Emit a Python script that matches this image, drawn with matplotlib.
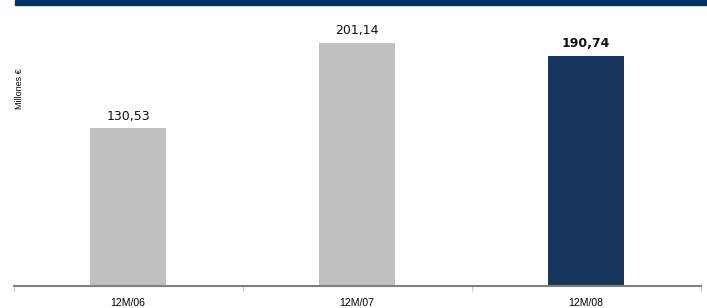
import matplotlib
matplotlib.use("Agg")
import matplotlib.pyplot as plt
from matplotlib.patches import Rectangle

categories = ["12M/06", "12M/07", "12M/08"]
values = [130.53, 201.14, 190.74]
value_labels = ["130,53", "201,14", "190,74"]
bar_colors = ["#C0C0C0", "#C0C0C0", "#17365D"]
label_weights = ["normal", "normal", "bold"]

W, H = 707, 308
fig = plt.figure(figsize=(W / 100, H / 100), dpi=100)

# header band
fig.patches.append(Rectangle((15 / W, 1 - 5 / H), 1 - 15 / W, 5 / H,
                             transform=fig.transFigure, color="#003366", zorder=0))

left, right = 13.5 / W, 700.5 / W
bottom = (H - 286) / H
top = (H - 5) / H
ax = fig.add_axes([left, bottom, right - left, top - bottom])

x = list(range(len(categories)))
ax.bar(x, values, width=0.33, color=bar_colors, zorder=2)
ax.set_xlim(-0.5, len(categories) - 0.5)
ax.set_ylim(0, 281 / 1.208)

for xi, v, lab, w in zip(x, values, value_labels, label_weights):
    ax.annotate(lab, (xi, v), xytext=(0, 4), textcoords="offset points",
                ha="center", va="bottom", fontsize=9, fontweight=w,
                family="DejaVu Sans", color="#111111")

for s in ["top", "right", "left"]:
    ax.spines[s].set_visible(False)
ax.spines["bottom"].set_color("#808080")
ax.spines["bottom"].set_linewidth(1.5)
ax.set_yticks([])

ax.set_xticks([i - 0.5 for i in range(len(categories) + 1)], minor=False)
ax.set_xticklabels([])
ax.tick_params(axis="x", which="major", length=4, color="#D0D0D0", width=0.8)
ax.set_xticks(x, minor=True)
ax.set_xticklabels(categories, minor=True, fontsize=7.5, family="Liberation Sans")
ax.tick_params(axis="x", which="minor", length=0, pad=9)

fig.text(20 / W, 1 - 89 / H, "Millones €", rotation=90, ha="center", va="center",
         fontsize=6.5, family="Liberation Sans")

fig.savefig("out.png", dpi=100)
